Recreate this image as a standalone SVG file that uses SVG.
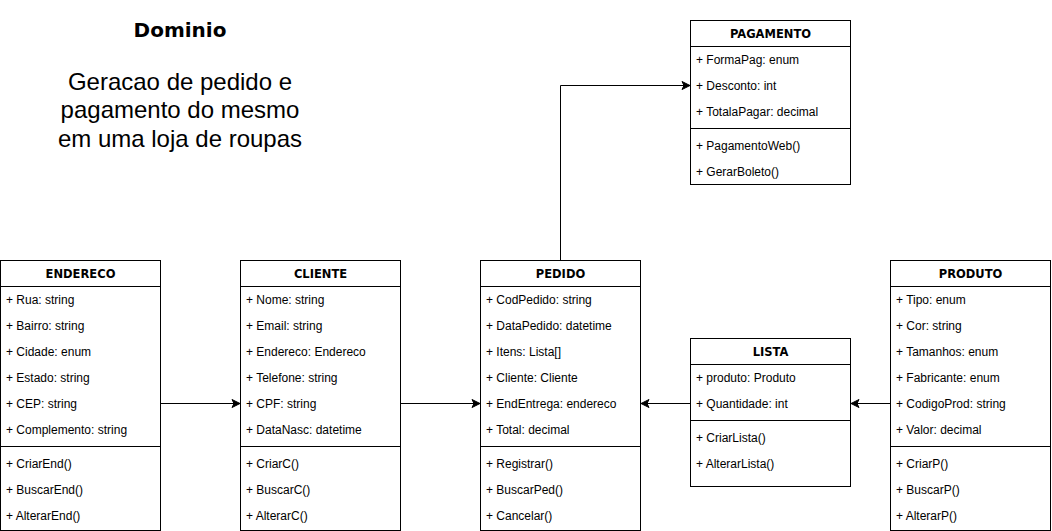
<svg xmlns="http://www.w3.org/2000/svg" width="1052" height="531" viewBox="0 0 1052 531">
<style>
.box{fill:#fff;stroke:#000;stroke-width:1}
.ln{stroke:#000;stroke-width:1;fill:none}
.hd{font-family:"DejaVu Sans",sans-serif;font-weight:bold;font-size:11.5px;fill:#000;text-anchor:middle}
.at{font-family:"Liberation Sans",Arial,sans-serif;font-size:12px;fill:#000}
.conn{stroke:#000;stroke-width:1;fill:none;marker-end:url(#arr)}
.title{font-family:"DejaVu Sans",sans-serif;font-weight:bold;font-size:20px;fill:#000;text-anchor:middle}
.sub{font-family:"Liberation Sans",Arial,sans-serif;font-size:24px;fill:#000;text-anchor:middle}
</style>
<defs>
<marker id="arr" markerUnits="userSpaceOnUse" markerWidth="12" markerHeight="12" refX="8" refY="4.5" orient="auto" overflow="visible">
<path d="M0,0.5 L8,4.5 L0,8.5 L2,4.5 Z" fill="#000" stroke="#000" stroke-width="1"/>
</marker>
</defs>
<rect width="1052" height="531" fill="#fff"/>
<g id="title">
<text class="title" x="180" y="37">Dominio</text>
<text class="sub" x="180" y="89.5">Geracao de pedido e</text>
<text class="sub" x="180" y="118">pagamento do mesmo</text>
<text class="sub" x="180" y="146.5">em uma loja de roupas</text>
</g>
<g id="connectors">
<path class="conn" d="M160.5,403.5 L240,403.5"/>
<path class="conn" d="M400.5,403.5 L480,403.5"/>
<path class="conn" d="M690.5,403.5 L641,403.5"/>
<path class="conn" d="M890.5,403.5 L851,403.5"/>
<path class="conn" d="M560.5,260.5 L560.5,85.5 L690,85.5"/>
</g>
<g id="endereco">
<rect class="box" x="0.5" y="260.5" width="160" height="270"/>
<path class="ln" d="M0.5,286.5 H160.5 M0.5,446.5 H160.5"/>
<text class="hd" x="80.5" y="277.5">ENDERECO</text>
<text class="at" x="6" y="303.5">+ Rua: string</text>
<text class="at" x="6" y="329.5">+ Bairro: string</text>
<text class="at" x="6" y="355.5">+ Cidade: enum</text>
<text class="at" x="6" y="381.5">+ Estado: string</text>
<text class="at" x="6" y="407.5">+ CEP: string</text>
<text class="at" x="6" y="433.5">+ Complemento: string</text>
<text class="at" x="6" y="468">+ CriarEnd()</text>
<text class="at" x="6" y="494">+ BuscarEnd()</text>
<text class="at" x="6" y="520">+ AlterarEnd()</text>
</g>
<g id="cliente">
<rect class="box" x="240.5" y="260.5" width="160" height="270"/>
<path class="ln" d="M240.5,286.5 H400.5 M240.5,446.5 H400.5"/>
<text class="hd" x="320.5" y="277.5">CLIENTE</text>
<text class="at" x="246" y="303.5">+ Nome: string</text>
<text class="at" x="246" y="329.5">+ Email: string</text>
<text class="at" x="246" y="355.5">+ Endereco: Endereco</text>
<text class="at" x="246" y="381.5">+ Telefone: string</text>
<text class="at" x="246" y="407.5">+ CPF: string</text>
<text class="at" x="246" y="433.5">+ DataNasc: datetime</text>
<text class="at" x="246" y="468">+ CriarC()</text>
<text class="at" x="246" y="494">+ BuscarC()</text>
<text class="at" x="246" y="520">+ AlterarC()</text>
</g>
<g id="pedido">
<rect class="box" x="480.5" y="260.5" width="160" height="270"/>
<path class="ln" d="M480.5,286.5 H640.5 M480.5,446.5 H640.5"/>
<text class="hd" x="560.5" y="277.5">PEDIDO</text>
<text class="at" x="486" y="303.5">+ CodPedido: string</text>
<text class="at" x="486" y="329.5">+ DataPedido: datetime</text>
<text class="at" x="486" y="355.5">+ Itens: Lista[]</text>
<text class="at" x="486" y="381.5">+ Cliente: Cliente</text>
<text class="at" x="486" y="407.5">+ EndEntrega: endereco</text>
<text class="at" x="486" y="433.5">+ Total: decimal</text>
<text class="at" x="486" y="468">+ Registrar()</text>
<text class="at" x="486" y="494">+ BuscarPed()</text>
<text class="at" x="486" y="520">+ Cancelar()</text>
</g>
<g id="produto">
<rect class="box" x="890.5" y="260.5" width="160" height="270"/>
<path class="ln" d="M890.5,286.5 H1050.5 M890.5,446.5 H1050.5"/>
<text class="hd" x="970.5" y="277.5">PRODUTO</text>
<text class="at" x="896" y="303.5">+ Tipo: enum</text>
<text class="at" x="896" y="329.5">+ Cor: string</text>
<text class="at" x="896" y="355.5">+ Tamanhos: enum</text>
<text class="at" x="896" y="381.5">+ Fabricante: enum</text>
<text class="at" x="896" y="407.5">+ CodigoProd: string</text>
<text class="at" x="896" y="433.5">+ Valor: decimal</text>
<text class="at" x="896" y="468">+ CriarP()</text>
<text class="at" x="896" y="494">+ BuscarP()</text>
<text class="at" x="896" y="520">+ AlterarP()</text>
</g>
<g id="lista">
<rect class="box" x="690.5" y="338.5" width="160" height="148"/>
<path class="ln" d="M690.5,364.5 H850.5 M690.5,420.5 H850.5"/>
<text class="hd" x="770.5" y="355.5">LISTA</text>
<text class="at" x="696" y="381.5">+ produto: Produto</text>
<text class="at" x="696" y="407.5">+ Quantidade: int</text>
<text class="at" x="696" y="442">+ CriarLista()</text>
<text class="at" x="696" y="468">+ AlterarLista()</text>
</g>
<g id="pagamento">
<rect class="box" x="690.5" y="20.5" width="160" height="164"/>
<path class="ln" d="M690.5,46.5 H850.5 M690.5,128.5 H850.5"/>
<text class="hd" x="770.5" y="37.5">PAGAMENTO</text>
<text class="at" x="696" y="63.5">+ FormaPag: enum</text>
<text class="at" x="696" y="89.5">+ Desconto: int</text>
<text class="at" x="696" y="115.5">+ TotalaPagar: decimal</text>
<text class="at" x="696" y="150">+ PagamentoWeb()</text>
<text class="at" x="696" y="176">+ GerarBoleto()</text>
</g>
</svg>
